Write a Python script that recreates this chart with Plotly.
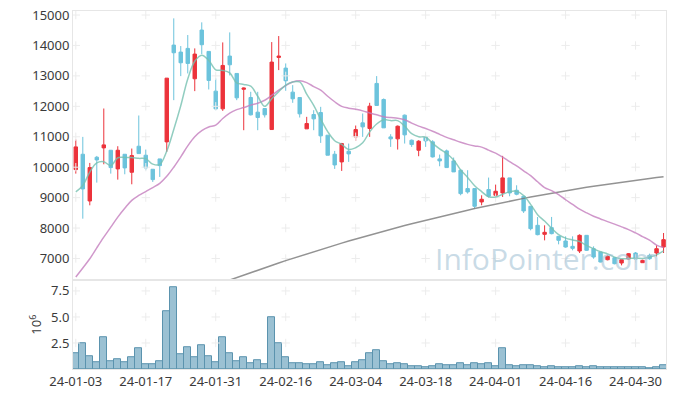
import plotly.graph_objects as go

# ---------------- data ----------------
dates = [
    "24-01-03", "24-01-04", "24-01-05", "24-01-08", "24-01-09", "24-01-10", "24-01-11", "24-01-12",
    "24-01-15", "24-01-16", "24-01-17", "24-01-18", "24-01-19", "24-01-22", "24-01-23", "24-01-24",
    "24-01-25", "24-01-26", "24-01-29", "24-01-30", "24-01-31", "24-02-01", "24-02-02", "24-02-05",
    "24-02-06", "24-02-07", "24-02-08", "24-02-13", "24-02-14", "24-02-15", "24-02-16", "24-02-19",
    "24-02-20", "24-02-21", "24-02-22", "24-02-23", "24-02-26", "24-02-27", "24-02-28", "24-02-29",
    "24-03-04", "24-03-05", "24-03-06", "24-03-07", "24-03-08", "24-03-11", "24-03-12", "24-03-13",
    "24-03-14", "24-03-15", "24-03-18", "24-03-19", "24-03-20", "24-03-21", "24-03-22", "24-03-25",
    "24-03-26", "24-03-27", "24-03-28", "24-03-29", "24-04-01", "24-04-02", "24-04-03", "24-04-04",
    "24-04-05", "24-04-08", "24-04-09", "24-04-11", "24-04-12", "24-04-15", "24-04-16", "24-04-17",
    "24-04-18", "24-04-19", "24-04-22", "24-04-23", "24-04-24", "24-04-25", "24-04-26", "24-04-29",
    "24-04-30", "24-05-02", "24-05-03", "24-05-07", "24-05-08",
]

opens = [
    9921, 10425, 8890, 10327, 10634, 10557, 9943, 10425, 9833, 10689,
    10393, 9932, 10272, 10831, 14012, 13782, 13903, 12905, 14506, 13804,
    12499, 11917, 13651, 13080, 12560, 12290, 11808, 11928, 11237, 13607,
    13256, 12466, 12290, 11259, 11731, 11797, 11051, 10426, 10173, 10524,
    10996, 11457, 11271, 12752, 12225, 10996, 10931, 11709, 10886, 10557,
    10996, 10832, 10272, 10536, 10207, 9900, 9297, 9297, 8858, 9264,
    9077, 9154, 9648, 9242, 9044, 8715, 8090, 7794, 8014, 7728,
    7575, 7399, 7246, 7761, 7322, 7213, 6960, 7026, 6851, 6982,
    7180, 6862, 7103, 7180, 7377,
]
highs = [
    10908, 10996, 10140, 10370, 11928, 10557, 10689, 10425, 10612, 11698,
    10579, 9932, 10272, 12926, 14890, 13980, 14342, 13903, 14759, 13804,
    12916, 14100, 14429, 13080, 12620, 12477, 12477, 11928, 14111, 14309,
    13409, 12696, 12290, 11654, 11873, 11983, 11051, 10535, 10798, 10776,
    11369, 11764, 12115, 12993, 12258, 11084, 11369, 11731, 10909, 10887,
    11018, 10887, 10415, 10579, 10317, 9922, 9900, 9297, 9077, 9659,
    9428, 10372, 9648, 9406, 9044, 8715, 8364, 8090, 8365, 7728,
    7728, 7728, 7794, 7761, 7399, 7213, 7103, 7026, 6960, 7180,
    7213, 6960, 7158, 7432, 7838,
]
lows = [
    9789, 8308, 8747, 9493, 10096, 9789, 9592, 9767, 9438, 10447,
    9899, 9515, 9680, 10502, 12202, 12992, 13080, 12499, 13716, 12554,
    11873, 11851, 13014, 12202, 11215, 11698, 11215, 11632, 11237, 13190,
    12510, 12115, 11632, 11259, 11215, 10798, 10393, 9943, 9877, 10173,
    10864, 10996, 10996, 12028, 11292, 10667, 10580, 10777, 10667, 10360,
    10667, 10316, 10031, 9987, 9845, 9077, 9132, 8638, 8748, 9000,
    9044, 9022, 9044, 9077, 8496, 7925, 7761, 7596, 7794, 7465,
    7355, 7268, 7180, 7246, 6993, 6873, 6939, 6807, 6774, 6960,
    6960, 6862, 6960, 7070, 7180,
]
closes = [
    10667, 9285, 9987, 10239, 10733, 9987, 10557, 9976, 10381, 10447,
    9976, 9592, 10052, 12926, 13760, 13431, 13409, 13716, 14024, 12850,
    11917, 13343, 13365, 12279, 12600, 11720, 11632, 11720, 13453, 13650,
    12839, 12247, 11753, 11435, 11588, 11029, 10393, 10074, 10776, 10436,
    11237, 11325, 12006, 12028, 11292, 10931, 11347, 11062, 10744, 10854,
    10865, 10338, 10206, 9987, 9845, 9132, 9187, 8715, 8946, 9044,
    9209, 9648, 9154, 9110, 8562, 7980, 7783, 7860, 7816, 7597,
    7377, 7333, 7761, 7268, 7048, 6884, 7070, 6829, 6960, 7158,
    6982, 6938, 6993, 7322, 7619,
]
# volume in millions of shares
volume_m = [
    1.47, 2.44, 1.19, 0.61, 3.01, 0.71, 0.90, 0.61, 1.09, 1.96,
    0.42, 0.42, 0.71, 5.51, 7.82, 1.38, 2.05, 1.09, 2.24, 1.19,
    0.61, 3.01, 1.47, 0.71, 1.09, 0.51, 0.80, 0.42, 4.94, 2.44,
    1.09, 0.51, 0.51, 0.42, 0.42, 0.61, 0.32, 0.51, 0.61, 0.29,
    0.61, 0.80, 1.47, 1.76, 0.71, 0.42, 0.51, 0.42, 0.22, 0.22,
    0.13, 0.22, 0.42, 0.32, 0.32, 0.51, 0.32, 0.51, 0.42, 0.51,
    0.22, 1.96, 0.32, 0.22, 0.32, 0.32, 0.22, 0.13, 0.22, 0.13,
    0.13, 0.13, 0.22, 0.13, 0.22, 0.13, 0.13, 0.13, 0.13, 0.13,
    0.13, 0.13, 0.05, 0.13, 0.32,
]
ma5 = [
    9190, 9400, 9840, 10140, 10180, 10050, 10310, 10320, 10320, 10290,
    10280, 10100, 10090, 10530, 11240, 12020, 12900, 13480, 13680, 13510,
    13200, 13180, 13100, 12770, 12720, 12660, 12330, 12000, 12250, 12480,
    12700, 12800, 12800, 12400, 12030, 11580, 11170, 10870, 10750, 10580,
    10640, 10800, 11160, 11420, 11560, 11530, 11530, 11350, 11100, 11000,
    10985, 10785, 10605, 10450, 10240, 9910, 9665, 9390, 9200, 9025,
    9020, 9110, 9195, 9210, 9070, 8780, 8440, 8230, 7990, 7785,
    7670, 7610, 7560, 7430, 7320, 7220, 7150, 7045, 6990, 7000,
    7010, 7000, 7040, 7120, 7250,
]
ma20 = [
    6390, 6690, 6990, 7350, 7700, 8030, 8360, 8650, 8910, 9070,
    9200, 9330, 9470, 9700, 10000, 10340, 10700, 11000, 11200, 11320,
    11380, 11600, 11780, 11890, 11960, 12040, 12100, 12200, 12360, 12530,
    12680, 12800, 12840, 12780, 12650, 12530, 12330, 12150, 12000, 11940,
    11900, 11850, 11780, 11720, 11660, 11630, 11610, 11560, 11450, 11350,
    11270, 11180, 11080, 10980, 10900, 10820, 10750, 10700, 10660, 10560,
    10460, 10330, 10180, 10040, 9880, 9720, 9520, 9330, 9230, 9100,
    8930, 8780, 8620, 8500, 8390, 8300, 8210, 8130, 8040, 7950,
    7840, 7720, 7600, 7440, 7360,
]
ma120 = [None] * 21 + [
    6212, 6295, 6377, 6459, 6538, 6619, 6698, 6776, 6853, 6929,
    7004, 7078, 7152, 7224, 7296, 7367, 7436, 7505, 7573, 7640,
    7706, 7772, 7836, 7899, 7961, 8023, 8084, 8144, 8202, 8260,
    8317, 8373, 8428, 8483, 8536, 8588, 8640, 8691, 8740, 8789,
    8837, 8884, 8930, 8975, 9020, 9063, 9106, 9147, 9188, 9227,
    9266, 9304, 9341, 9377, 9412, 9446, 9480, 9512, 9543, 9574,
    9604, 9632, 9660, 9687,
]
price_ticks = [7000, 8000, 9000, 10000, 11000, 12000, 13000, 14000, 15000]
price_tick_text = ["7000", "8000", "9000", "10000", "11000", "12000", "13000", "14000", "15000"]
vol_ticks = [2.5, 5.0, 7.5]
vol_tick_text = ["2.5", "5.0", "7.5"]
date_ticks = dates[::10]

# ---------------- styling ----------------
RED = "#ec333b"
BLUE = "#6cc3dc"
GRID = "#ececec"
AXLINE = "#e6e6e6"
TXT = "#3a3a3a"
FONT = "Noto Sans"

fig = go.Figure()

# faint grid crosses at tick intersections
cx, cy = [], []
for d in date_ticks:
    for p in price_ticks:
        cx.append(d)
        cy.append(p)
fig.add_trace(go.Scatter(x=cx, y=cy, mode="markers", xaxis="x", yaxis="y",
                         marker=dict(symbol="cross-thin", size=6,
                                     line=dict(color=GRID, width=1)),
                         hoverinfo="skip", showlegend=False))
vx, vy = [], []
for d in date_ticks:
    for v in vol_ticks:
        vx.append(d)
        vy.append(v)
fig.add_trace(go.Scatter(x=vx, y=vy, mode="markers", xaxis="x2", yaxis="y2",
                         marker=dict(symbol="cross-thin", size=6,
                                     line=dict(color=GRID, width=1)),
                         hoverinfo="skip", showlegend=False))

fig.add_trace(go.Scatter(x=dates, y=ma120, mode="lines", xaxis="x", yaxis="y",
                         line=dict(color="rgba(120,120,120,0.8)", width=1.5),
                         hoverinfo="skip", showlegend=False))
fig.add_trace(go.Scatter(x=dates, y=ma20, mode="lines", xaxis="x", yaxis="y",
                         line=dict(color="rgba(196,126,190,0.8)", width=1.5, shape="spline"),
                         hoverinfo="skip", showlegend=False))
fig.add_trace(go.Scatter(x=dates, y=ma5, mode="lines", xaxis="x", yaxis="y",
                         line=dict(color="rgba(118,192,176,0.8)", width=1.5, shape="spline"),
                         hoverinfo="skip", showlegend=False))

fig.add_trace(go.Candlestick(
    x=dates, open=opens, high=highs, low=lows, close=closes,
    xaxis="x", yaxis="y", whiskerwidth=0,
    increasing=dict(line=dict(color=RED, width=1), fillcolor=RED),
    decreasing=dict(line=dict(color=BLUE, width=1), fillcolor=BLUE),
    hoverinfo="skip", showlegend=False))

fig.add_trace(go.Bar(x=dates, y=volume_m, xaxis="x2", yaxis="y2",
                     marker=dict(color="rgba(130,177,200,0.8)",
                                 line=dict(color="#5b93ae", width=1)),
                     hoverinfo="skip", showlegend=False))

# the page body adds an 8px offset, so the margins compensate for it
xr = [-0.4, 84.35]
fig.update_layout(
    width=677, height=397,
    margin=dict(l=65, r=19, t=3, b=36, pad=0),
    paper_bgcolor="white", plot_bgcolor="white",
    font=dict(family=FONT, size=13, color=TXT),
    showlegend=False, bargap=0,
    xaxis=dict(domain=[0, 1], anchor="y", type="category", categoryorder="array",
               categoryarray=dates, range=xr, showticklabels=False, showgrid=False,
               showline=True, mirror=True, linecolor=AXLINE, ticks="", automargin=False,
               rangeslider=dict(visible=False), zeroline=False),
    yaxis=dict(domain=[0.249, 1], anchor="x", range=[6298, 15132], tickvals=price_ticks,
               ticktext=price_tick_text, automargin=False, ticklabeloverflow="allow",
               showgrid=False, showline=True, mirror=True, linecolor=AXLINE,
               ticks="", zeroline=False, tickfont=dict(size=13, color=TXT)),
    xaxis2=dict(domain=[0, 1], anchor="y2", type="category", categoryorder="array",
                categoryarray=dates, range=xr, tickvals=date_ticks, ticktext=date_ticks,
                showgrid=False, showline=True, mirror=True, linecolor=AXLINE,
                automargin=False, ticklabeloverflow="allow",
                ticks="", zeroline=False, tickfont=dict(size=13, color=TXT)),
    yaxis2=dict(domain=[0, 0.248], anchor="x2", range=[0, 8.53], tickvals=vol_ticks,
                ticktext=vol_tick_text, showgrid=False, showline=True, mirror=True,
                linecolor=AXLINE, ticks="", zeroline=False, automargin=False,
                ticklabeloverflow="allow",
                tickfont=dict(size=13, color=TXT),
                title=dict(text="10<sup>6</sup>", standoff=6, font=dict(size=13, color=TXT))),
    annotations=[dict(text="InfoPointer.com", xref="paper", yref="paper",
                      x=0.80, y=0.309, xanchor="center", yanchor="middle",
                      showarrow=False,
                      font=dict(family="Open Sans", size=30, color="rgba(165,196,214,0.6)"))],
)

fig.write_html("out.html")
